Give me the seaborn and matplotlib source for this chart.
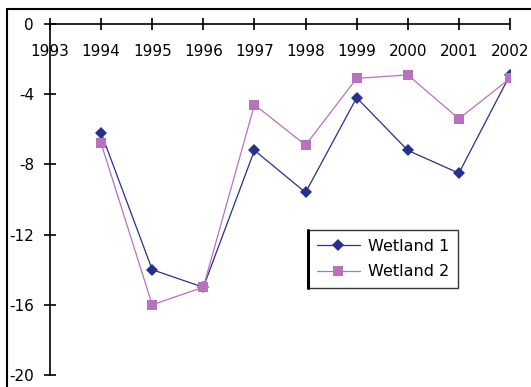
import matplotlib
matplotlib.use("Agg")
import matplotlib.pyplot as plt
from matplotlib.lines import Line2D
import seaborn as sns
import pandas as pd

years = [1994, 1995, 1996, 1997, 1998, 1999, 2000, 2001, 2002]
wetland1 = [-6.2, -14.0, -15.0, -7.2, -9.6, -4.2, -7.2, -8.5, -2.9]
wetland2 = [-6.8, -16.0, -15.0, -4.6, -6.9, -3.1, -2.9, -5.4, -3.1]
tick_years = list(range(1993, 2003))
y_ticks = [0, -4, -8, -12, -16, -20]

df = pd.DataFrame({
    "year": years * 2,
    "value": wetland1 + wetland2,
    "series": ["Wetland 1"] * len(years) + ["Wetland 2"] * len(years),
})

sns.set_style("white")
plt.rcParams["font.family"] = ["DejaVu Sans"]

W, H = 531, 387
fig = plt.figure(figsize=(W / 100, H / 100), dpi=100)
ax = fig.add_axes([50 / W, 1 - 375 / H, (510 - 50) / W, (375 - 24) / H])

palette = {"Wetland 1": "#27308f", "Wetland 2": "#b772bb"}
markers = {"Wetland 1": "D", "Wetland 2": "s"}
for name, size in [("Wetland 1", 6), ("Wetland 2", 7.5)]:
    sub = df[df["series"] == name]
    sns.lineplot(data=sub, x="year", y="value", ax=ax, color=palette[name],
                 marker=markers[name], markersize=size, markeredgewidth=0,
                 linewidth=0.9, label=name, legend=False)

ax.set_xlim(1993, 2002)
ax.set_ylim(-20, 0)
ax.set_xticks(tick_years)
ax.set_xticklabels([str(y) for y in tick_years])
ax.set_yticks(y_ticks)
ax.set_yticklabels([str(v) for v in y_ticks])
ax.set_xlabel("")
ax.set_ylabel("")

# the x axis line sits at y = 0 (top of the plot); its labels hang below it
ax.spines["bottom"].set_position(("data", 0))
for s in ["top", "right"]:
    ax.spines[s].set_visible(False)
for s in ["bottom", "left"]:
    ax.spines[s].set_color("black")
    ax.spines[s].set_linewidth(1.2)
ax.tick_params(axis="both", direction="inout", length=9, width=1.2,
               colors="black", labelsize=11, labelcolor="black",
               bottom=True, left=True)
ax.tick_params(axis="x", pad=10)
ax.tick_params(axis="y", pad=7)
ax.patch.set_alpha(0)
ax.grid(False)

leg = ax.legend(loc="upper left", bbox_to_anchor=((308 - 50) / 460, 1 - (230 - 24) / 351),
                frameon=True, fancybox=False, fontsize=11.5, handlelength=2.7,
                borderpad=0.55, labelspacing=0.65, handletextpad=0.5,
                borderaxespad=0)
leg.get_frame().set_edgecolor("black")
leg.get_frame().set_linewidth(1.0)
for t in leg.get_texts():
    t.set_color("black")

# heavier left edge on the legend box
fig.canvas.draw()
bb = leg.get_frame().get_window_extent().transformed(fig.transFigure.inverted())
fig.add_artist(Line2D([bb.x0, bb.x0], [bb.y0, bb.y1], color="black", lw=2.2,
                      transform=fig.transFigure))

# outer chart frame
fig.add_artist(Line2D([7 / W, 7 / W], [0, 1 - 9 / H], color="black", lw=1.5,
                      transform=fig.transFigure))
fig.add_artist(Line2D([7 / W, 1], [1 - 9 / H, 1 - 9 / H], color="black", lw=1.5,
                      transform=fig.transFigure))

fig.savefig("out.png", dpi=100)
